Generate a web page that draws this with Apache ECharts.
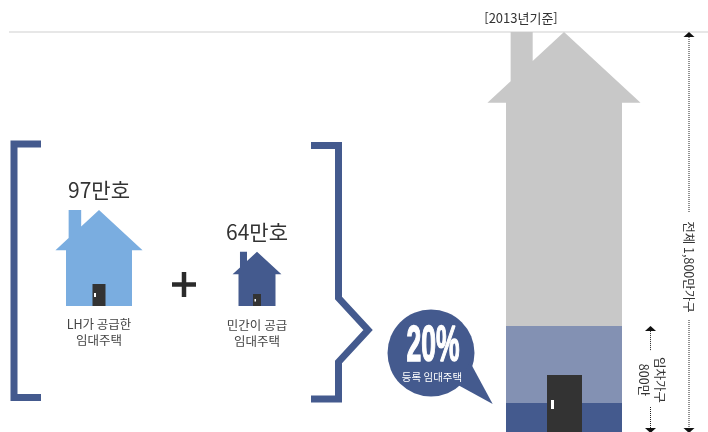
<!DOCTYPE html>
<html lang="ko">
<head>
<meta charset="utf-8">
<style>html,body{margin:0;padding:0;background:#fff}#chart{width:708px;height:432px}</style>
<script src="https://cdn.jsdelivr.net/npm/echarts@6/dist/echarts.min.js"></script>
</head>
<body>
<div id="chart"></div>
<script>
// Household figures, in units of 10,000
const baseYearLabel = '[2013년기준]';
const totalHouseholds = 1800;
const renterHouseholds = 800;
const totalLabel = '전체 1,800만가구';
const renterLabel = '임차가구\n800만';

// Registered rental stock, in units of 10,000 homes
const stockCategories = ['LH', '민간'];
const stockHomes = [97, 64];
const stockCaptions = ['LH가 공급한\n임대주택', '민간이 공급\n임대주택'];
const registeredShare = '20%';
const registeredCaption = '등록 임대주택';

const registeredHomes = stockHomes[0] + stockHomes[1];
const unregisteredRenters = renterHouseholds - registeredHomes;

const INK = '#333333', NAVY = '#445a8e', FONT = '"Noto Sans CJK KR", sans-serif';
const stockLook = [
  {fill: '#7aade0', body: 66, door: 13, doorH: 22, knob: [1.5, 9, 2, 4]},
  {fill: NAVY, body: 37, door: 8, doorH: 12, knob: [1.5, 5, 1.5, 2.5]}
];
const mainLook = {fill: '#c8c8c8', body: 116, door: 35, doorH: 57, knob: [4, 25, 3, 9]};

// House silhouette: proportions follow the body width, the apex follows the value
function housePolygon(cx, top, bottom, w) {
  const eaveX = w * 0.66, eaveY = top + w * 0.61, slope = w * 0.61 / eaveX;
  const chimL = cx - w * 0.46, chimR = cx - w * 0.27;
  return [
    [cx, top], [cx + eaveX, eaveY], [cx + w / 2, eaveY], [cx + w / 2, bottom],
    [cx - w / 2, bottom], [cx - w / 2, eaveY], [cx - eaveX, eaveY],
    [chimL, top + (cx - chimL) * slope], [chimL, top], [chimR, top],
    [chimR, top + (cx - chimR) * slope]
  ];
}
function doorChildren(cx, bottom, look) {
  const x = cx - look.door / 2, y = bottom - look.doorH;
  return [
    {type: 'rect', shape: {x, y, width: look.door, height: look.doorH}, style: {fill: '#333333'}},
    {type: 'rect', shape: {x: x + look.knob[0], y: y + look.knob[1], width: look.knob[2], height: look.knob[3]}, style: {fill: '#ffffff'}}
  ];
}
function renderHouse(look, withValueLabel) {
  return function (params, api) {
    const i = api.value(0), v = api.value(1), l = Array.isArray(look) ? look[i] : look;
    const top = api.coord([i, v]), bottom = api.coord([i, 0]);
    const children = [{type: 'polygon', shape: {points: housePolygon(top[0], top[1], bottom[1], l.body)}, style: {fill: l.fill}}];
    if (withValueLabel) {
      children.push(...doorChildren(top[0], bottom[1], l));
      children.push({type: 'text', style: {text: v + '만호', x: top[0], y: top[1] - 19.5, align: 'center', verticalAlign: 'middle', fill: INK, font: '21px ' + FONT}});
    }
    return {type: 'group', children};
  };
}
// Vertical dimension arrows beside the main house
const dimLook = {
  [totalHouseholds]: {x: 689, labelX: 689, labelY: 267, gap: [212, 320], text: totalLabel},
  [renterHouseholds]: {x: 650.5, labelX: 652, labelY: 380, gap: [351, 407], text: renterLabel}
};
function renderDim(params, api) {
  const v = api.value(1), d = dimLook[v];
  const t = api.coord([0, v])[1], b = api.coord([0, 0])[1], x = d.x;
  const dotted = {stroke: '#222222', lineWidth: 1, lineDash: [1, 1]};
  return {type: 'group', children: [
    {type: 'polygon', shape: {points: [[x, t], [x + 5.5, t + 5], [x - 5.5, t + 5]]}, style: {fill: '#111111'}},
    {type: 'polygon', shape: {points: [[x, b + 1], [x + 5.5, b - 4], [x - 5.5, b - 4]]}, style: {fill: '#111111'}},
    {type: 'line', shape: {x1: x, y1: t + 5, x2: x, y2: d.gap[0]}, style: dotted},
    {type: 'line', shape: {x1: x, y1: d.gap[1], x2: x, y2: b - 4}, style: dotted},
    {type: 'text', x: d.labelX, y: d.labelY, rotation: -Math.PI / 2,
      style: {text: d.text, x: 0, y: 0, align: 'center', verticalAlign: 'middle', fill: INK, font: '12.5px ' + FONT, lineHeight: 16}}
  ]};
}

const chart = echarts.init(document.getElementById('chart'), null, {renderer: 'canvas'});
chart.setOption({
  animation: false,
  backgroundColor: '#ffffff',
  grid: [
    {left: 506, width: 116, top: 32, height: 400},
    {left: 20, width: 316, top: 210, height: 96}
  ],
  xAxis: [
    {gridIndex: 0, type: 'category', data: ['전체'], show: false},
    {gridIndex: 1, type: 'category', data: stockCategories, show: false}
  ],
  yAxis: [
    // The housing diagram is not drawn to a single scale, so parts of the range are collapsed
    {gridIndex: 0, type: 'value', min: 0, max: totalHouseholds, show: false,
      breaks: [{start: 40, end: 102, gap: 0}, {start: 300, end: 677, gap: 0}], breakArea: {show: false}},
    {gridIndex: 1, type: 'value', min: 0, max: stockHomes[0], show: false,
      breaks: [{start: 10, end: 31, gap: 0}], breakArea: {show: false}}
  ],
  series: [
    {type: 'custom', xAxisIndex: 0, yAxisIndex: 0, z: 1, data: [[0, totalHouseholds]], renderItem: renderHouse(mainLook, false), encode: {x: 0, y: 1}, silent: true},
    {type: 'bar', xAxisIndex: 0, yAxisIndex: 0, z: 2, stack: 'renters', barWidth: '100%', data: [registeredHomes], itemStyle: {color: NAVY}, silent: true},
    {type: 'bar', xAxisIndex: 0, yAxisIndex: 0, z: 2, stack: 'renters', barWidth: '100%', data: [unregisteredRenters], itemStyle: {color: '#8391b3'}, silent: true},
    {type: 'custom', xAxisIndex: 0, yAxisIndex: 0, z: 3, data: [[0, 0]], encode: {x: 0, y: 1}, silent: true,
      renderItem: function (params, api) {
        const c = api.coord([0, 0]);
        return {type: 'group', children: doorChildren(c[0] + 0.5, c[1], mainLook)};
      }},
    {type: 'custom', xAxisIndex: 0, yAxisIndex: 0, z: 3, data: [[0, totalHouseholds], [0, renterHouseholds]], encode: {x: 0, y: 1}, renderItem: renderDim, silent: true},
    {type: 'custom', xAxisIndex: 1, yAxisIndex: 1, z: 2, data: stockHomes.map((v, i) => [i, v]), encode: {x: 0, y: 1}, renderItem: renderHouse(stockLook, true), silent: true}
  ],
  graphic: {elements: [
    {type: 'line', z: 0, shape: {x1: 9, y1: 32, x2: 708, y2: 32}, style: {stroke: '#d0d0d0', lineWidth: 1.2}},
    {type: 'text', style: {text: baseYearLabel, x: 521, y: 18, align: 'center', verticalAlign: 'middle', fill: INK, font: '13px ' + FONT}},
    // Brackets around the two rental sources
    {type: 'polyline', shape: {points: [[41, 144], [14, 144], [14, 397.5], [41, 397.5]]}, style: {stroke: NAVY, lineWidth: 7, fill: null, lineJoin: 'miter'}},
    {type: 'polyline', shape: {points: [[311, 145.5], [338.5, 145.5], [338.5, 298], [368, 330], [338.5, 362], [338.5, 399], [311, 399]]}, style: {stroke: NAVY, lineWidth: 7, fill: null, lineJoin: 'miter', miterLimit: 4}},
    // Plus sign
    {type: 'line', shape: {x1: 172, y1: 284.5, x2: 196, y2: 284.5}, style: {stroke: '#2b2b2b', lineWidth: 4.5}},
    {type: 'line', shape: {x1: 184, y1: 272, x2: 184, y2: 297}, style: {stroke: '#2b2b2b', lineWidth: 4.5}},
    // Captions under the small houses
    {type: 'text', style: {text: stockCaptions[0], x: 99, y: 332, align: 'center', verticalAlign: 'middle', fill: '#444444', font: '12.5px ' + FONT, lineHeight: 16}},
    {type: 'text', style: {text: stockCaptions[1], x: 257, y: 333, align: 'center', verticalAlign: 'middle', fill: '#444444', font: '12.5px ' + FONT, lineHeight: 16}},
    // Speech bubble
    {type: 'circle', shape: {cx: 431, cy: 353, r: 43.5}, style: {fill: NAVY}},
    {type: 'polygon', shape: {points: [[470, 362], [492.7, 404], [458, 385]]}, style: {fill: NAVY}},
    {type: 'text', x: 433, y: 347, scaleX: 0.53, style: {text: registeredShare, x: 0, y: 0, align: 'center', verticalAlign: 'middle', fill: '#ffffff', stroke: '#ffffff', lineWidth: 1.5, font: 'bold 50px "Liberation Sans Narrow", "Liberation Sans", sans-serif'}},
    {type: 'text', style: {text: registeredCaption, x: 432, y: 377, align: 'center', verticalAlign: 'middle', fill: '#ffffff', font: '10.5px ' + FONT}}
  ]}
});
</script>
</body>
</html>
